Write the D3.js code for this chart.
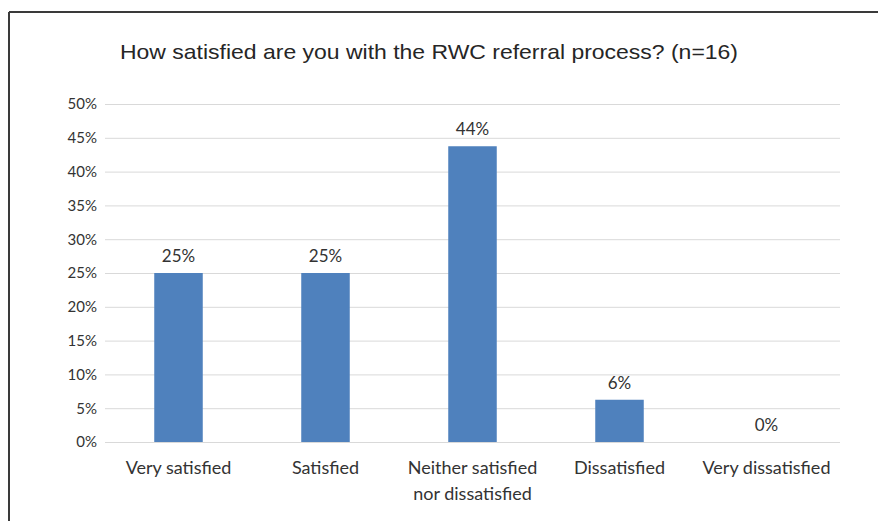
<!DOCTYPE html>
<html>
<head>
<meta charset="utf-8">
<script src="https://cdn.jsdelivr.net/npm/d3@7"></script>
<style>
  html, body { margin: 0; padding: 0; background: #fff; }
  svg { display: block; }
</style>
</head>
<body>
<svg id="chart" width="878" height="521"></svg>
<script>
// Survey responses (n=16), share of respondents per answer
const categories = [
  ["Very satisfied"],
  ["Satisfied"],
  ["Neither satisfied", "nor dissatisfied"],
  ["Dissatisfied"],
  ["Very dissatisfied"]
];
const values = [0.25, 0.25, 0.4375, 0.0625, 0];
const valueLabels = ["25%", "25%", "44%", "6%", "0%"];
const yTicks = [0, 0.05, 0.10, 0.15, 0.20, 0.25, 0.30, 0.35, 0.40, 0.45, 0.50];
const title = "How satisfied are you with the RWC referral process? (n=16)";

const svg = d3.select("#chart");
const W = 878, H = 521;
const plot = { left: 105, right: 840, top: 104, bottom: 442 };
const labelFont = "Lato, 'Open Sans', sans-serif";

// Frame of the chart area (left and top edges visible)
svg.append("line").attr("x1", 9).attr("x2", 9).attr("y1", 12).attr("y2", H)
  .attr("stroke", "#3a3a3a").attr("stroke-width", 2);
svg.append("line").attr("x1", 9).attr("x2", W).attr("y1", 12).attr("y2", 12)
  .attr("stroke", "#3a3a3a").attr("stroke-width", 2);

const x = d3.scaleBand()
  .domain(d3.range(categories.length))
  .range([plot.left, plot.right])
  .paddingInner(0.67).paddingOuter(0.335);

const y = d3.scaleLinear().domain([0, 0.5]).range([plot.bottom, plot.top]);

// Gridlines
svg.append("g")
  .selectAll("line").data(yTicks).join("line")
  .attr("x1", plot.left).attr("x2", plot.right)
  .attr("y1", d => y(d) + 0.5).attr("y2", d => y(d) + 0.5)
  .attr("stroke", "#d9d9d9").attr("stroke-width", 1);

// Y axis labels
const yAxis = d3.axisLeft(y).tickValues(yTicks).tickFormat(d3.format(".0%")).tickSize(0).tickPadding(0);
const gy = svg.append("g").attr("transform", `translate(${plot.left - 8},0)`).call(yAxis);
gy.select(".domain").remove();
gy.selectAll("text")
  .attr("font-family", labelFont)
  .attr("font-size", 15).attr("fill", "#333");

// Bars
svg.append("g").selectAll("rect").data(values).join("rect")
  .attr("x", (d, i) => x(i))
  .attr("y", d => y(d))
  .attr("width", x.bandwidth())
  .attr("height", d => y(0) - y(d))
  .attr("fill", "#4f81bd");

// Value labels
svg.append("g").selectAll("text").data(values).join("text")
  .attr("x", (d, i) => x(i) + x.bandwidth() / 2)
  .attr("y", d => y(d) - 11)
  .attr("text-anchor", "middle")
  .attr("font-family", labelFont)
  .attr("font-size", 17).attr("fill", "#333")
  .text((d, i) => valueLabels[i]);

// Category labels
const gx = svg.append("g");
categories.forEach((lines, i) => {
  const cx = x(i) + x.bandwidth() / 2;
  const t = gx.append("text")
    .attr("x", cx)
    .attr("y", plot.bottom + 32)
    .attr("text-anchor", "middle")
    .attr("font-family", labelFont)
    .attr("font-size", 18).attr("fill", "#333");
  lines.forEach((s, k) => {
    t.append("tspan").attr("x", cx).attr("dy", k === 0 ? 0 : 26).text(s);
  });
});

// Title
svg.append("text")
  .attr("x", 429).attr("y", 59)
  .attr("text-anchor", "middle")
  .attr("font-family", "'Liberation Sans', Arial, sans-serif")
  .attr("font-size", 21).attr("fill", "#262626")
  .attr("textLength", 618).attr("lengthAdjust", "spacingAndGlyphs")
  .text(title);
</script>
</body>
</html>
